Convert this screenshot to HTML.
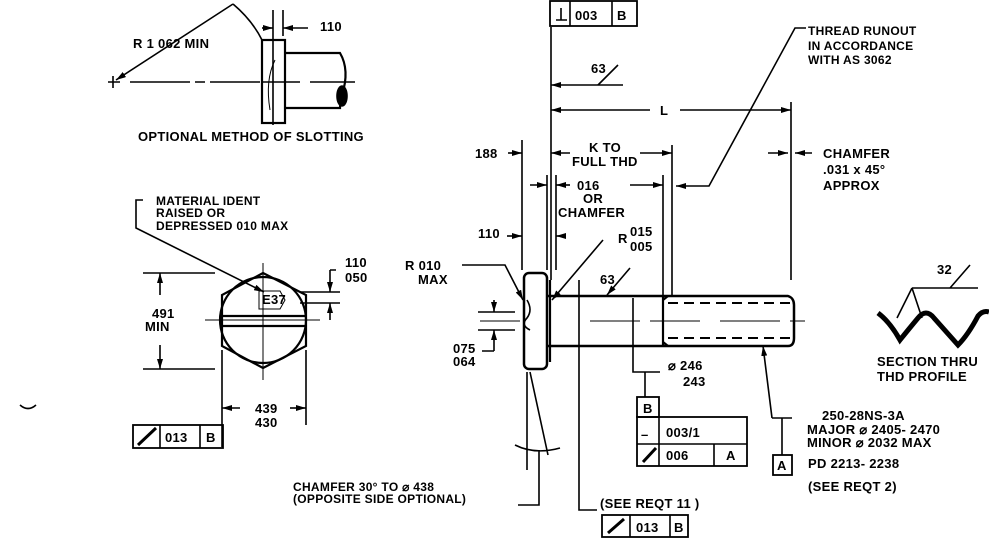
<!DOCTYPE html>
<html><head><meta charset="utf-8"><style>
html,body{margin:0;padding:0;background:#fff;}
svg{display:block;}
text{font-family:"Liberation Sans",sans-serif;font-size:13px;fill:#000;font-weight:bold;letter-spacing:0.3px;}
.s{font-size:12px;}
</style></head><body>
<svg width="989" height="542" viewBox="0 0 989 542" xmlns="http://www.w3.org/2000/svg">
<defs>
<marker id="a" markerWidth="10" markerHeight="6" refX="10" refY="3" orient="auto" markerUnits="userSpaceOnUse"><path d="M0 0 L10 3 L0 6 Z" fill="#000"/></marker>
</defs>
<g fill="none" stroke="#000" stroke-width="1.6">
<!-- slotting view -->
<path d="M108 82 H120 M113 76 V88"/>
<path d="M233 4 L116 80" marker-end="url(#a)"/>
<path d="M233 4 Q252 20 262 40"/>
<rect x="262" y="40" width="23" height="83" stroke-width="2.2"/>
<path d="M285 53 H340 Q350 70 342 95 Q340 105 340 108 H285" stroke-width="2.2"/>
<path d="M130 82 H260 M262 82 H300 M310 82 H355" stroke-dasharray="60 5 10 5"/>
<path d="M273 10 V125 M283 10 V36"/>
<path d="M262 28 H273" marker-end="url(#a)"/>
<path d="M308 28 H283" marker-end="url(#a)"/>
<path d="M275 60 Q265 80 270 110" stroke-width="1"/>
<ellipse cx="342" cy="96" rx="5" ry="10" fill="#000"/>
<!-- material ident leader -->
<path d="M143 200 H136 V228 L264 292" marker-end="url(#a)"/>
<!-- hex view -->
<polygon points="263,273 306,295 306,346 263,368 222,346 222,295" stroke-width="2.2"/>
<circle cx="263" cy="320" r="43" stroke-width="2.2"/>
<path d="M222 316 H306 M222 326 H306" stroke-width="2.2"/>
<path d="M263 263 V380 M205 320 H320" stroke-width="1"/>
<path d="M143 273 H215 M143 369 H215"/>
<path d="M160 295 V273" marker-end="url(#a)"/>
<path d="M160 345 V369" marker-end="url(#a)"/>
<path d="M222 350 V447 M306 350 V425"/>
<path d="M240 408 H222" marker-end="url(#a)"/>
<path d="M290 408 H306" marker-end="url(#a)"/>
<path d="M300 292 H340 M300 303 H340 M330 270 H336"/>
<path d="M330 270 V292" marker-end="url(#a)"/>
<path d="M330 320 V303" marker-end="url(#a)"/>
<rect x="133" y="425" width="90" height="23" stroke-width="1.8"/>
<path d="M160 425 V448 M200 425 V448"/>
<path d="M138 445 L156 428" stroke-width="3"/>
<path d="M259 291 H280 L285 300 L280 309 H259 Z" stroke-width="1"/>
<path d="M20 405 Q28 412 36 405"/>
<!-- main bolt -->
<rect x="524" y="273" width="23" height="96" rx="5" stroke-width="2.5"/>
<path d="M550 280 V362" stroke-width="2.2"/>
<path d="M547 296 H788 Q794 298 794 305 V338 Q794 346 788 346 H547" stroke-width="2.5"/>
<path d="M663 296 V346 M663 300 L668 296 M663 342 L668 346" stroke-width="2.2"/>
<path d="M668 303 H790 M668 338 H790" stroke-dasharray="10 6" stroke-width="2"/>
<path d="M590 321 H640 M650 321 H700 M720 321 H780 M790 321 H805" stroke-width="1"/>
<path d="M480 321 H520" stroke-width="1"/>
<path d="M527 300 Q533 310 527 318 Q520 325 530 330" stroke-width="1.6"/>
<!-- vertical ext lines -->
<path d="M551 27 V280 M791 102 V280 M672 145 V296 M663 175 V296 M522 140 V270 M547 175 V270 M556 175 V270"/>
<path d="M508 153 H522" marker-end="url(#a)"/>
<path d="M570 153 H551" marker-end="url(#a)"/>
<path d="M640 153 H672" marker-end="url(#a)"/>
<path d="M530 185 H547" marker-end="url(#a)"/>
<path d="M570 185 H556" marker-end="url(#a)"/>
<path d="M630 185 H663" marker-end="url(#a)"/>
<path d="M507 236 H522" marker-end="url(#a)"/>
<path d="M566 236 H556" marker-end="url(#a)"/>
<path d="M623 85 H551" marker-end="url(#a)"/>
<path d="M598 85 L618 65"/>
<path d="M650 110 H551" marker-end="url(#a)"/>
<path d="M680 110 H791" marker-end="url(#a)"/>
<path d="M768 153 H788" marker-end="url(#a)"/>
<path d="M812 153 H795" marker-end="url(#a)"/>
<path d="M806 28 H795 L709 186 H676" marker-end="url(#a)"/>
<path d="M603 240 L552 300" marker-end="url(#a)"/>
<path d="M462 265 H505 L523 300" marker-end="url(#a)"/>
<path d="M478 312 H515 M478 330 H515 M494 351 H482"/>
<path d="M494 300 V312" marker-end="url(#a)"/>
<path d="M494 351 V330" marker-end="url(#a)"/>
<path d="M630 268 L607 295" marker-end="url(#a)"/>
<path d="M633 298 V372 H660 M645 372 V397"/>
<path d="M772 418 L763 346" marker-end="url(#a)"/>
<path d="M772 418 H792 M782 418 V455"/>
<rect x="637" y="397" width="22" height="20" stroke-width="1.8"/>
<rect x="637" y="417" width="110" height="49" stroke-width="1.8"/>
<path d="M637 444 H747 M659 417 V466 M714 444 V466"/>
<path d="M643 462 L656 448" stroke-width="3"/>
<rect x="773" y="455" width="19" height="20" stroke-width="1.8"/>
<path d="M579 280 V510 H597"/>
<rect x="602" y="515" width="86" height="22" stroke-width="1.8"/>
<path d="M630 515 V537 M670 515 V537"/>
<path d="M608 533 L624 519" stroke-width="3"/>
<rect x="550" y="1" width="87" height="25" stroke-width="1.8"/>
<path d="M570 1 V26 M556 20 H567 M561 8 V20 M612 1 V26"/>
<!-- chamfer lines below head -->
<path d="M527 372 V470 M530 372 L548 455 M515 445 Q535 455 560 448 M539 450 V505 H518"/>
<!-- thread profile -->
<path d="M878 313 Q890 322 900 340 Q908 330 918 318 Q926 308 934 318 L958 345 Q968 335 978 316 Q983 310 989 312" stroke-width="5"/>
<path d="M912 288 H978 M912 288 L897 318 M912 288 L922 318 M950 288 L970 265"/>
</g>
<g>
<text x="133" y="48">R  1 062  MIN</text>
<text x="320" y="31">110</text>
<text x="138" y="141">OPTIONAL  METHOD  OF  SLOTTING</text>
<text x="156" y="205" class="s">MATERIAL  IDENT</text>
<text x="156" y="217" class="s">RAISED  OR</text>
<text x="156" y="230" class="s">DEPRESSED  010  MAX</text>
<text x="152" y="318">491</text>
<text x="145" y="331">MIN</text>
<text x="262" y="304">E37</text>
<text x="345" y="267">110</text>
<text x="345" y="282">050</text>
<text x="255" y="413">439</text>
<text x="255" y="427">430</text>
<text x="165" y="442">013</text>
<text x="206" y="442">B</text>
<text x="293" y="491" class="s">CHAMFER  30°  TO  ⌀ 438</text>
<text x="293" y="503" class="s">(OPPOSITE  SIDE  OPTIONAL)</text>
<text x="405" y="270">R  010</text>
<text x="418" y="284">MAX</text>
<text x="453" y="353">075</text>
<text x="453" y="366">064</text>
<text x="475" y="158">188</text>
<text x="478" y="238">110</text>
<text x="589" y="152">K  TO</text>
<text x="572" y="166">FULL  THD</text>
<text x="577" y="190">016</text>
<text x="583" y="203">OR</text>
<text x="558" y="217">CHAMFER</text>
<text x="618" y="243">R</text>
<text x="630" y="236">015</text>
<text x="630" y="251">005</text>
<text x="600" y="284">63</text>
<text x="591" y="73">63</text>
<text x="660" y="115">L</text>
<text x="575" y="20">003</text>
<text x="617" y="20">B</text>
<text x="808" y="35" class="s">THREAD  RUNOUT</text>
<text x="808" y="50" class="s">IN  ACCORDANCE</text>
<text x="808" y="64" class="s">WITH  AS  3062</text>
<text x="823" y="158">CHAMFER</text>
<text x="823" y="174">.031  x  45°</text>
<text x="823" y="190">APPROX</text>
<text x="668" y="370">⌀ 246</text>
<text x="683" y="386">243</text>
<text x="643" y="413">B</text>
<text x="641" y="439">–</text>
<text x="666" y="437">003/1</text>
<text x="666" y="460">006</text>
<text x="726" y="460">A</text>
<text x="777" y="470">A</text>
<text x="822" y="420">250-28NS-3A</text>
<text x="807" y="434">MAJOR ⌀ 2405- 2470</text>
<text x="807" y="447">MINOR ⌀ 2032  MAX</text>
<text x="808" y="468">PD  2213- 2238</text>
<text x="808" y="491">(SEE  REQT  2)</text>
<text x="600" y="508">(SEE  REQT  11 )</text>
<text x="636" y="532">013</text>
<text x="674" y="532">B</text>
<text x="877" y="366">SECTION  THRU</text>
<text x="877" y="381">THD  PROFILE</text>
<text x="937" y="274">32</text>
</g>
</svg>
</body></html>
